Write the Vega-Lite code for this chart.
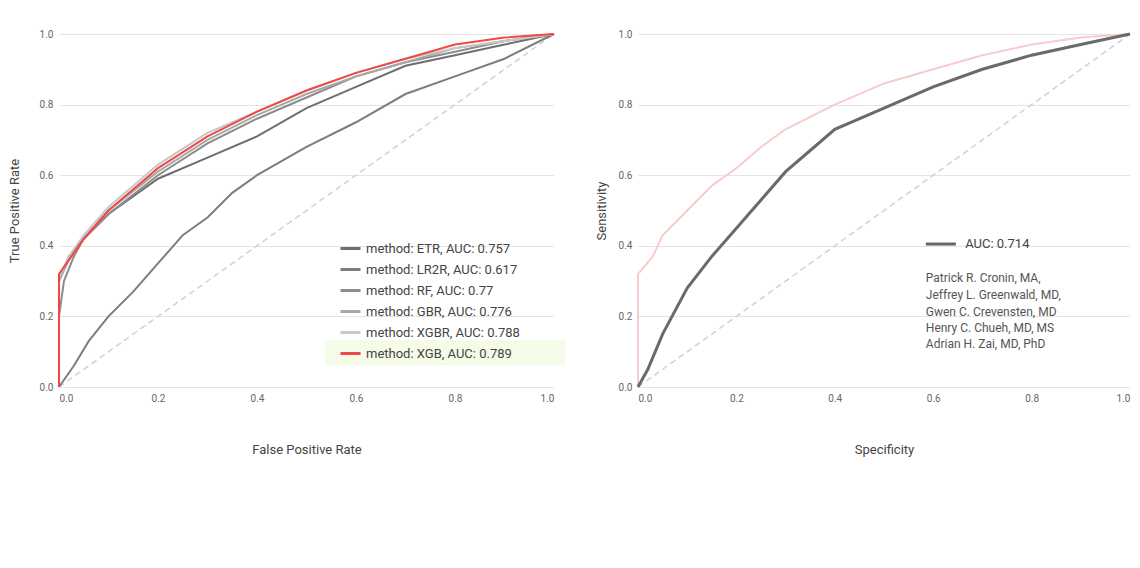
{
  "$schema": "https://vega.github.io/schema/vega-lite/v6.json",
  "padding": {"left": 8, "top": 28, "right": 15, "bottom": 5},
  "config": {
    "font": "Roboto",
    "view": {"stroke": null},
    "axis": {"labelColor": "#666", "labelFontSize": 10, "titleColor": "#444", "titleFontSize": 13, "titleFontWeight": "normal", "domain": false, "ticks": false, "gridColor": "#e4e4e4", "tickCount": 5, "labelPadding": 6}
  },
  "datasets": {
    "roc": [
      {"m": "method: ETR, AUC: 0.757", "x": 0, "y": 0}, {"m": "method: ETR, AUC: 0.757", "x": 0, "y": 0.3}, {"m": "method: ETR, AUC: 0.757", "x": 0.02, "y": 0.37}, {"m": "method: ETR, AUC: 0.757", "x": 0.05, "y": 0.42}, {"m": "method: ETR, AUC: 0.757", "x": 0.1, "y": 0.49}, {"m": "method: ETR, AUC: 0.757", "x": 0.2, "y": 0.59}, {"m": "method: ETR, AUC: 0.757", "x": 0.3, "y": 0.65}, {"m": "method: ETR, AUC: 0.757", "x": 0.4, "y": 0.71}, {"m": "method: ETR, AUC: 0.757", "x": 0.5, "y": 0.79}, {"m": "method: ETR, AUC: 0.757", "x": 0.6, "y": 0.85}, {"m": "method: ETR, AUC: 0.757", "x": 0.7, "y": 0.91}, {"m": "method: ETR, AUC: 0.757", "x": 0.8, "y": 0.94}, {"m": "method: ETR, AUC: 0.757", "x": 0.9, "y": 0.97}, {"m": "method: ETR, AUC: 0.757", "x": 1, "y": 1},
      {"m": "method: LR2R, AUC: 0.617", "x": 0, "y": 0}, {"m": "method: LR2R, AUC: 0.617", "x": 0.03, "y": 0.06}, {"m": "method: LR2R, AUC: 0.617", "x": 0.06, "y": 0.13}, {"m": "method: LR2R, AUC: 0.617", "x": 0.1, "y": 0.2}, {"m": "method: LR2R, AUC: 0.617", "x": 0.15, "y": 0.27}, {"m": "method: LR2R, AUC: 0.617", "x": 0.2, "y": 0.35}, {"m": "method: LR2R, AUC: 0.617", "x": 0.25, "y": 0.43}, {"m": "method: LR2R, AUC: 0.617", "x": 0.3, "y": 0.48}, {"m": "method: LR2R, AUC: 0.617", "x": 0.35, "y": 0.55}, {"m": "method: LR2R, AUC: 0.617", "x": 0.4, "y": 0.6}, {"m": "method: LR2R, AUC: 0.617", "x": 0.5, "y": 0.68}, {"m": "method: LR2R, AUC: 0.617", "x": 0.6, "y": 0.75}, {"m": "method: LR2R, AUC: 0.617", "x": 0.7, "y": 0.83}, {"m": "method: LR2R, AUC: 0.617", "x": 0.8, "y": 0.88}, {"m": "method: LR2R, AUC: 0.617", "x": 0.9, "y": 0.93}, {"m": "method: LR2R, AUC: 0.617", "x": 1, "y": 1},
      {"m": "method: RF, AUC: 0.77", "x": 0, "y": 0}, {"m": "method: RF, AUC: 0.77", "x": 0, "y": 0.2}, {"m": "method: RF, AUC: 0.77", "x": 0.01, "y": 0.3}, {"m": "method: RF, AUC: 0.77", "x": 0.03, "y": 0.37}, {"m": "method: RF, AUC: 0.77", "x": 0.05, "y": 0.42}, {"m": "method: RF, AUC: 0.77", "x": 0.1, "y": 0.49}, {"m": "method: RF, AUC: 0.77", "x": 0.2, "y": 0.6}, {"m": "method: RF, AUC: 0.77", "x": 0.3, "y": 0.69}, {"m": "method: RF, AUC: 0.77", "x": 0.4, "y": 0.76}, {"m": "method: RF, AUC: 0.77", "x": 0.5, "y": 0.82}, {"m": "method: RF, AUC: 0.77", "x": 0.6, "y": 0.88}, {"m": "method: RF, AUC: 0.77", "x": 0.7, "y": 0.92}, {"m": "method: RF, AUC: 0.77", "x": 0.8, "y": 0.95}, {"m": "method: RF, AUC: 0.77", "x": 0.9, "y": 0.98}, {"m": "method: RF, AUC: 0.77", "x": 1, "y": 1},
      {"m": "method: GBR, AUC: 0.776", "x": 0, "y": 0}, {"m": "method: GBR, AUC: 0.776", "x": 0, "y": 0.3}, {"m": "method: GBR, AUC: 0.776", "x": 0.02, "y": 0.36}, {"m": "method: GBR, AUC: 0.776", "x": 0.05, "y": 0.42}, {"m": "method: GBR, AUC: 0.776", "x": 0.1, "y": 0.5}, {"m": "method: GBR, AUC: 0.776", "x": 0.2, "y": 0.61}, {"m": "method: GBR, AUC: 0.776", "x": 0.3, "y": 0.7}, {"m": "method: GBR, AUC: 0.776", "x": 0.4, "y": 0.77}, {"m": "method: GBR, AUC: 0.776", "x": 0.5, "y": 0.83}, {"m": "method: GBR, AUC: 0.776", "x": 0.6, "y": 0.88}, {"m": "method: GBR, AUC: 0.776", "x": 0.7, "y": 0.92}, {"m": "method: GBR, AUC: 0.776", "x": 0.8, "y": 0.96}, {"m": "method: GBR, AUC: 0.776", "x": 0.9, "y": 0.98}, {"m": "method: GBR, AUC: 0.776", "x": 1, "y": 1},
      {"m": "method: XGBR, AUC: 0.788", "x": 0, "y": 0}, {"m": "method: XGBR, AUC: 0.788", "x": 0, "y": 0.31}, {"m": "method: XGBR, AUC: 0.788", "x": 0.02, "y": 0.37}, {"m": "method: XGBR, AUC: 0.788", "x": 0.05, "y": 0.43}, {"m": "method: XGBR, AUC: 0.788", "x": 0.1, "y": 0.51}, {"m": "method: XGBR, AUC: 0.788", "x": 0.2, "y": 0.63}, {"m": "method: XGBR, AUC: 0.788", "x": 0.3, "y": 0.72}, {"m": "method: XGBR, AUC: 0.788", "x": 0.4, "y": 0.78}, {"m": "method: XGBR, AUC: 0.788", "x": 0.5, "y": 0.84}, {"m": "method: XGBR, AUC: 0.788", "x": 0.6, "y": 0.89}, {"m": "method: XGBR, AUC: 0.788", "x": 0.7, "y": 0.93}, {"m": "method: XGBR, AUC: 0.788", "x": 0.8, "y": 0.96}, {"m": "method: XGBR, AUC: 0.788", "x": 0.9, "y": 0.98}, {"m": "method: XGBR, AUC: 0.788", "x": 1, "y": 1},
      {"m": "method: XGB, AUC: 0.789", "x": 0, "y": 0}, {"m": "method: XGB, AUC: 0.789", "x": 0, "y": 0.32}, {"m": "method: XGB, AUC: 0.789", "x": 0.02, "y": 0.36}, {"m": "method: XGB, AUC: 0.789", "x": 0.05, "y": 0.42}, {"m": "method: XGB, AUC: 0.789", "x": 0.1, "y": 0.5}, {"m": "method: XGB, AUC: 0.789", "x": 0.15, "y": 0.56}, {"m": "method: XGB, AUC: 0.789", "x": 0.2, "y": 0.62}, {"m": "method: XGB, AUC: 0.789", "x": 0.3, "y": 0.71}, {"m": "method: XGB, AUC: 0.789", "x": 0.4, "y": 0.78}, {"m": "method: XGB, AUC: 0.789", "x": 0.5, "y": 0.84}, {"m": "method: XGB, AUC: 0.789", "x": 0.6, "y": 0.89}, {"m": "method: XGB, AUC: 0.789", "x": 0.7, "y": 0.93}, {"m": "method: XGB, AUC: 0.789", "x": 0.8, "y": 0.97}, {"m": "method: XGB, AUC: 0.789", "x": 0.9, "y": 0.99}, {"m": "method: XGB, AUC: 0.789", "x": 1, "y": 1}
    ],
    "gray": [
      {"x": 0, "y": 0}, {"x": 0.02, "y": 0.05}, {"x": 0.05, "y": 0.15}, {"x": 0.1, "y": 0.28}, {"x": 0.15, "y": 0.37}, {"x": 0.2, "y": 0.45}, {"x": 0.25, "y": 0.53}, {"x": 0.3, "y": 0.61}, {"x": 0.35, "y": 0.67}, {"x": 0.4, "y": 0.73}, {"x": 0.5, "y": 0.79}, {"x": 0.6, "y": 0.85}, {"x": 0.7, "y": 0.9}, {"x": 0.8, "y": 0.94}, {"x": 0.9, "y": 0.97}, {"x": 1, "y": 1}
    ],
    "pink": [
      {"x": 0, "y": 0}, {"x": 0, "y": 0.32}, {"x": 0.03, "y": 0.37}, {"x": 0.05, "y": 0.43}, {"x": 0.1, "y": 0.5}, {"x": 0.15, "y": 0.57}, {"x": 0.2, "y": 0.62}, {"x": 0.25, "y": 0.68}, {"x": 0.3, "y": 0.73}, {"x": 0.4, "y": 0.8}, {"x": 0.5, "y": 0.86}, {"x": 0.6, "y": 0.9}, {"x": 0.7, "y": 0.94}, {"x": 0.8, "y": 0.97}, {"x": 0.9, "y": 0.99}, {"x": 1, "y": 1}
    ],
    "diag": [{"x": 0, "y": 0}, {"x": 1, "y": 1}],
    "authors": [
      {"t": "Patrick R. Cronin, MA,", "x": 0.585, "y": 0.309},
      {"t": "Jeffrey L. Greenwald, MD,", "x": 0.585, "y": 0.261},
      {"t": "Gwen C. Crevensten, MD", "x": 0.585, "y": 0.213},
      {"t": "Henry C. Chueh, MD, MS", "x": 0.585, "y": 0.167},
      {"t": "Adrian H. Zai, MD, PhD", "x": 0.585, "y": 0.121}
    ]
  },
  "spacing": 30,
  "resolve": {"scale": {"color": "independent"}},
  "hconcat": [
    {
      "width": 495, "height": 353,
      "layer": [
        {"data": {"name": "diag"}, "mark": {"type": "line", "color": "#cdd0e0", "strokeDash": [6, 4], "strokeWidth": 1.5},
         "encoding": {"x": {"field": "x", "type": "quantitative", "scale": {"domain": [0, 1]}, "axis": {"title": "False Positive Rate", "grid": false, "titlePadding": 40}},
                      "y": {"field": "y", "type": "quantitative", "scale": {"domain": [0, 1]}, "axis": {"title": "True Positive Rate", "titlePadding": 18}}}},
        {"data": {"values": [{"x": 0.537, "x2": 1.022, "y": 0.062, "y2": 0.133}]}, "mark": {"type": "rect", "color": "#f4fbe6"},
         "encoding": {"x": {"field": "x", "type": "quantitative"}, "x2": {"field": "x2"}, "y": {"field": "y", "type": "quantitative"}, "y2": {"field": "y2"}}},
        {"data": {"name": "roc"}, "mark": {"type": "line", "strokeWidth": 2},
         "encoding": {"x": {"field": "x", "type": "quantitative"}, "y": {"field": "y", "type": "quantitative"},
                      "order": {"field": "x", "type": "quantitative"},
                      "color": {"field": "m", "type": "nominal", "sort": null,
                        "scale": {"domain": ["method: ETR, AUC: 0.757", "method: LR2R, AUC: 0.617", "method: RF, AUC: 0.77", "method: GBR, AUC: 0.776", "method: XGBR, AUC: 0.788", "method: XGB, AUC: 0.789"],
                                  "range": ["#6e6e6e", "#7d7d7d", "#8c8c8c", "#a8a8a8", "#c8c8c8", "#f04848"]},
                        "legend": {"title": null, "orient": "none", "legendX": 280, "legendY": 203, "symbolType": "stroke", "symbolStrokeWidth": 3, "symbolSize": 400, "labelFontSize": 13, "labelColor": "#444", "rowPadding": 2}}}}
      ]
    },
    {
      "width": 492, "height": 353,
      "layer": [
        {"data": {"name": "diag"}, "mark": {"type": "line", "color": "#cdd0e0", "strokeDash": [6, 4], "strokeWidth": 1.5},
         "encoding": {"x": {"field": "x", "type": "quantitative", "scale": {"domain": [0, 1]}, "axis": {"title": "Specificity", "grid": false, "titlePadding": 40}},
                      "y": {"field": "y", "type": "quantitative", "scale": {"domain": [0, 1]}, "axis": {"title": "Sensitivity", "titlePadding": 10}}}},
        {"data": {"name": "pink"}, "mark": {"type": "line", "strokeWidth": 2, "color": "#f8cccc"},
         "encoding": {"x": {"field": "x", "type": "quantitative"}, "y": {"field": "y", "type": "quantitative"}, "order": {"field": "x", "type": "quantitative"}}},
        {"data": {"name": "gray"}, "mark": {"type": "line", "strokeWidth": 3, "color": "#6a6a6a"},
         "encoding": {"x": {"field": "x", "type": "quantitative"}, "y": {"field": "y", "type": "quantitative"}, "order": {"field": "x", "type": "quantitative"}}},
        {"data": {"values": [{"x": 0.585, "x2": 0.646, "y": 0.405}]}, "mark": {"type": "rule", "color": "#666", "strokeWidth": 3},
         "encoding": {"x": {"field": "x", "type": "quantitative"}, "x2": {"field": "x2"}, "y": {"field": "y", "type": "quantitative"}}},
        {"data": {"values": [{"t": "AUC: 0.714", "x": 0.665, "y": 0.405}]}, "mark": {"type": "text", "align": "left", "fontSize": 13, "color": "#444"},
         "encoding": {"x": {"field": "x", "type": "quantitative"}, "y": {"field": "y", "type": "quantitative"}, "text": {"field": "t"}}},
        {"data": {"name": "authors"}, "mark": {"type": "text", "align": "left", "fontSize": 12, "color": "#555"},
         "encoding": {"x": {"field": "x", "type": "quantitative"}, "y": {"field": "y", "type": "quantitative"}, "text": {"field": "t"}}}
      ]
    }
  ]
}
